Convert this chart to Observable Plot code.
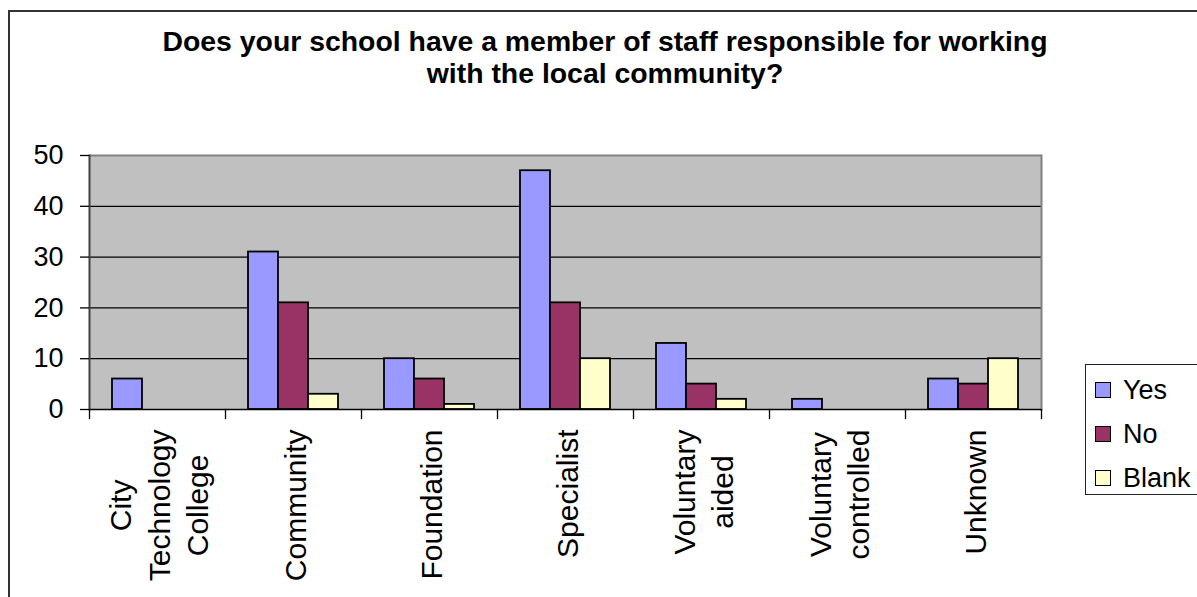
<!DOCTYPE html>
<html>
<head>
<meta charset="utf-8">
<script src="https://cdn.jsdelivr.net/npm/d3@7"></script>
<script src="https://cdn.jsdelivr.net/npm/@observablehq/plot@0.6"></script>
<style>
  body { margin: 0; background: #fff; }
  #chart { position: relative; width: 1197px; height: 597px; overflow: hidden; background: #fff;
           font-family: "Liberation Sans", Arial, sans-serif; color: #000; }
  #border { position: absolute; left: 8px; top: 10px; width: 1300px; height: 700px;
            border-top: 2px solid #333; border-left: 2px solid #333; box-sizing: border-box; }
  #plot { position: absolute; left: 0; top: 0; }
  #title { position: absolute; left: 105px; top: 25px; width: 1000px; text-align: center;
           font-weight: bold; font-size: 28.4px; line-height: 32px; }
  #legend { position: absolute; left: 1085px; top: 364px; width: 140px; height: 131px;
            border: 1px solid #222; box-sizing: border-box; background: #fff; }
  .item { position: absolute; left: 9px; height: 30px; display: flex; align-items: center; font-size: 27px; }
  .sw { width: 16px; height: 16px; border: 1.5px solid #000; box-sizing: border-box; margin-right: 12px; }
</style>
</head>
<body>
<div id="chart">
  <div id="border"></div>
  <div id="plot"></div>
  <div id="title">Does your school have a member of staff responsible for working<br>with the local community?</div>
  <div id="legend"></div>
</div>
<script>
// ---- data ----
const categories = ["City Technology College", "Community", "Foundation", "Specialist",
                    "Voluntary aided", "Voluntary controlled", "Unknown"];
const categoryLabels = ["City\nTechnology\nCollege", "Community", "Foundation", "Specialist",
                        "Voluntary\naided", "Voluntary\ncontrolled", "Unknown"];
const series = ["Yes", "No", "Blank"];
const yesValues   = [6, 31, 10, 47, 13, 2, 6];
const noValues    = [0, 21, 6, 21, 5, 0, 5];
const blankValues = [0, 3, 1, 10, 2, 0, 10];
const seriesColors = ["#9999FF", "#993366", "#FFFFCC"];
const yTicks = [0, 10, 20, 30, 40, 50];

// ---- table ----
const valueLists = [yesValues, noValues, blankValues];
const rows = [];
categories.forEach((c, i) => {
  valueLists.forEach((arr, j) => {
    if (arr[i] > 0) rows.push({category: c, series: series[j], value: arr[i]});
  });
});

// ---- category labels (rotated, centred multi-line like Excel) ----
const labelFont = 30;
const ctx = document.createElement("canvas").getContext("2d");
ctx.font = `${labelFont}px "Liberation Sans"`;
const labelMarks = categories.map((c, i) => {
  const lines = categoryLabels[i].split("\n");
  const maxW = Math.max(...lines.map(l => ctx.measureText(l).width));
  return Plot.text([c], {
    fx: d => d, text: () => categoryLabels[i],
    frameAnchor: "bottom", rotate: -90, textAnchor: "middle", lineAnchor: "middle",
    lineHeight: 1.28, fontSize: labelFont, fill: "black", dy: 20 + maxW / 2
  });
});

const chart = Plot.plot({
  width: 1197, height: 597,
  marginLeft: 87, marginRight: 155, marginTop: 155, marginBottom: 188,
  fx: {domain: categories, padding: 0, axis: null},
  x: {domain: series, paddingInner: 0, paddingOuter: 0.735, axis: null},
  y: {domain: [0, 50], axis: null},
  color: {domain: series, range: seriesColors},
  style: {fontFamily: "Liberation Sans, Arial, sans-serif", background: "transparent", color: "black", overflow: "visible"},
  marks: [
    Plot.frame({fill: "#C0C0C0", shapeRendering: "crispEdges"}),
    Plot.ruleY(yTicks.slice(1, -1), {stroke: "black", strokeWidth: 1.3}),
    Plot.ruleY([50], {stroke: "#808080", strokeWidth: 2}),
    Plot.frame({anchor: "right", facetAnchor: "right", stroke: "#808080", strokeWidth: 2}),
    Plot.barY(rows, {fx: "category", x: "series", y: "value", fill: "series", stroke: "black", strokeWidth: 1.8}),
    Plot.ruleY([0], {stroke: "black", strokeWidth: 1.3}),
    Plot.frame({anchor: "left", facetAnchor: "left", stroke: "#404040", strokeWidth: 2}),
    Plot.frame({anchor: "left", insetTop: 254, insetBottom: -9, stroke: "black", strokeWidth: 1.3}),
    Plot.frame({anchor: "right", facetAnchor: "right", insetTop: 254, insetBottom: -9, stroke: "black", strokeWidth: 1.3}),
    Plot.axisY({ticks: yTicks, label: null, tickSize: 9, tickPadding: 17, fontSize: 27, stroke: "black", strokeWidth: 1.3, fill: "black"}),
    ...labelMarks
  ]
});
document.getElementById("plot").appendChild(chart);

// ---- legend ----
const legend = document.getElementById("legend");
series.forEach((s, i) => {
  const item = document.createElement("div");
  item.className = "item";
  item.style.top = (10 + i * 44) + "px";
  const sw = document.createElement("div");
  sw.className = "sw";
  sw.style.background = seriesColors[i];
  const label = document.createElement("span");
  label.textContent = s;
  item.appendChild(sw);
  item.appendChild(label);
  legend.appendChild(item);
});
</script>
</body>
</html>
